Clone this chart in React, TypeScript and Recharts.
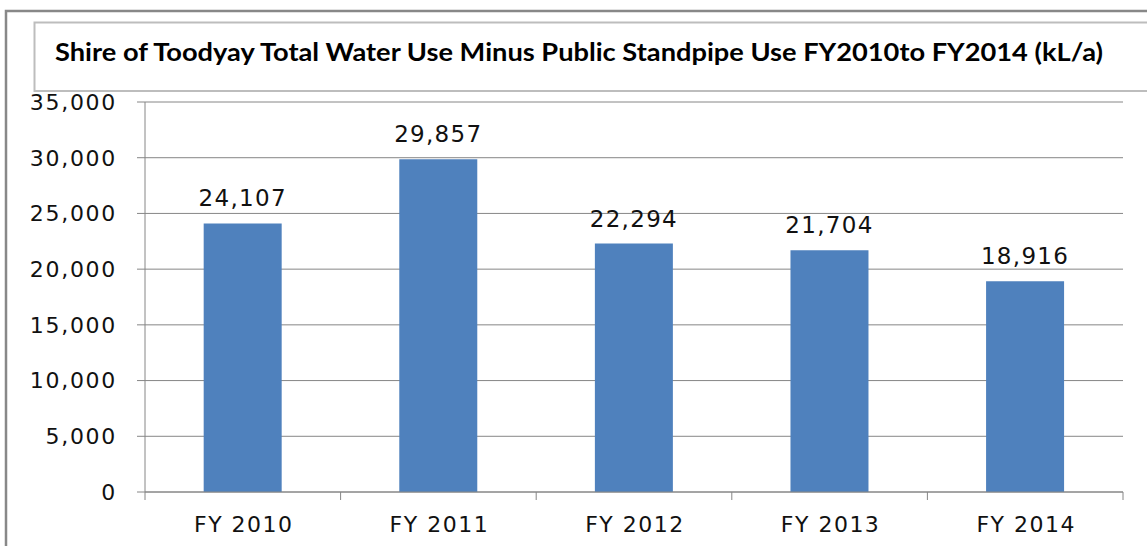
import { BarChart, Bar, XAxis, YAxis, CartesianGrid, LabelList } from 'recharts';

const years = ['FY 2010', 'FY 2011', 'FY 2012', 'FY 2013', 'FY 2014'];
const waterUse = [24107, 29857, 22294, 21704, 18916];
const yTicks = [0, 5000, 10000, 15000, 20000, 25000, 30000, 35000];

const data = years.map((y, i) => ({ year: y, value: waterUse[i] }));

const W = 1147;
const H = 546;
const AXIS_Y = 492;
const GREY = '#868686';
const fmt = (v: number) => v.toLocaleString('en-US');

function YearTick(props: any) {
  const { x, payload, index } = props;
  const half = payload?.offset ?? 97.8;
  return (
    <g>
      <line x1={x - half} x2={x - half} y1={AXIS_Y} y2={AXIS_Y + 8} stroke={GREY} />
      {index === years.length - 1 && (
        <line x1={x + half} x2={x + half} y1={AXIS_Y} y2={AXIS_Y + 8} stroke={GREY} />
      )}
      <text x={x + 1} y={AXIS_Y + 40} textAnchor="middle" fontSize={22} fill="#111"
        style={{ letterSpacing: 1.5, fontFamily: 'DejaVu Sans' }}>
        {payload.value}
      </text>
    </g>
  );
}

export default function App() {
  return (
    <div style={{ position: 'absolute', left: 0, top: 0, width: W, height: H, background: '#fff', overflow: 'hidden', fontFamily: 'DejaVu Sans' }}>
      <svg width={W} height={H} style={{ position: 'absolute', left: 0, top: 0 }}>
        <rect x={6} y={11} width={W + 20} height={H + 20} fill="none" stroke="#888" strokeWidth={2.5} />
        <rect x={34.5} y={22.5} width={W + 20} height={68.5} fill="none" stroke="#bdbdbd" strokeWidth={2} />
        <text x={55} y={61} fontSize={25} fontWeight="bold" fill="#000" textLength={1048}
          lengthAdjust="spacingAndGlyphs" style={{ fontFamily: 'Lato' }}>
          Shire of Toodyay Total Water Use Minus Public Standpipe Use FY2010to FY2014 (kL/a)
        </text>
      </svg>
      <div style={{ position: 'absolute', left: 0, top: 0 }}>
        <BarChart width={W} height={H} data={data} margin={{ top: 102, right: 24, bottom: 0, left: 0 }}
          barCategoryGap="30%">
          <CartesianGrid vertical={false} stroke={GREY} strokeWidth={1} />
          <XAxis dataKey="year" axisLine={{ stroke: GREY }} tickLine={false} tick={<YearTick />} interval={0} height={H - AXIS_Y} />
          <YAxis width={145} domain={[0, 35000]} ticks={yTicks} tickFormatter={fmt} interval={0}
            axisLine={{ stroke: GREY }} tickLine={{ stroke: GREY }} tickSize={8} tickMargin={20}
            tick={{ fontSize: 22, fill: '#111', style: { letterSpacing: 1.7, fontFamily: 'DejaVu Sans' } }} />
          <Bar dataKey="value" fill="#4f81bd" isAnimationActive={false}>
            <LabelList dataKey="value" position="top" offset={17} formatter={(v: any) => fmt(Number(v))}
              style={{ fontSize: 23, fill: '#111', letterSpacing: 1.3, fontFamily: 'DejaVu Sans' }} />
          </Bar>
        </BarChart>
      </div>
    </div>
  );
}
